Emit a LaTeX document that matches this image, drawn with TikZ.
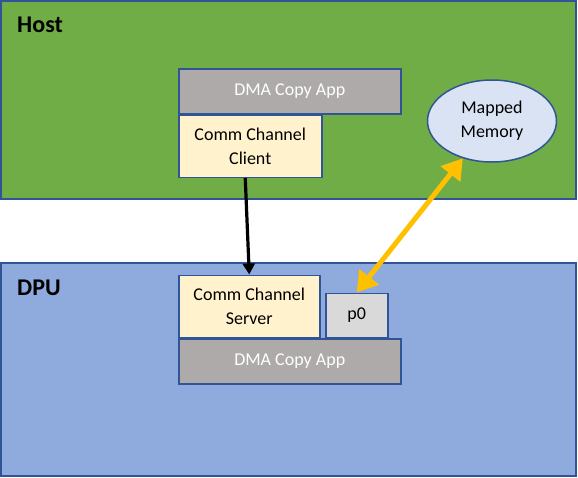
\documentclass[tikz,border=0pt]{standalone}
\usepackage{fontspec}
\setmainfont{Carlito}
\usetikzlibrary{arrows.meta,shapes.geometric,positioning}

\definecolor{hostgreen}{HTML}{70AD47}
\definecolor{dpublue}{HTML}{8FAADC}
\definecolor{boxblue}{HTML}{2F5597}
\definecolor{appgray}{HTML}{AEAAAA}
\definecolor{chanyellow}{HTML}{FFF2CC}
\definecolor{memblue}{HTML}{DAE3F3}
\definecolor{portgray}{HTML}{D9D9D9}
\definecolor{linkorange}{HTML}{FFC000}

\begin{document}
\begin{tikzpicture}[x=1pt,y=-1pt,
    every node/.style={font=\fontsize{18}{24}\selectfont,inner sep=0pt},
    area/.style={draw=boxblue,line width=1.5pt},
    area label/.style={font=\fontsize{24}{28}\selectfont\bfseries,anchor=base west},
    app box/.style={draw=boxblue,line width=1.5pt,fill=appgray,text=white,
                    minimum width=222pt,minimum height=45pt},
    chan box/.style={draw=boxblue,line width=1.5pt,fill=chanyellow,align=center,
                     minimum width=143pt,minimum height=62pt}]

  \useasboundingbox (0,0) rectangle (578,477);

  % host and dpu
  \draw[area,fill=hostgreen] (1,1) rectangle (576,199);
  \draw[area,fill=dpublue] (1,263) rectangle (576,476);
  \node[area label] (host) at (17,32) {Host};
  \node[area label] (dpu) at (17,295) {DPU};

  % host side
  \node[app box,anchor=north west] (hostapp) at (178,68) {DMA Copy App};
  \node[chan box,below right=0pt and 0pt of hostapp.south west] (client) {Comm Channel\\Client};
  \node[ellipse,draw=boxblue,line width=1.5pt,fill=memblue,align=center,
        minimum width=129pt,minimum height=82pt] (mem) at (492,121) {Mapped\\Memory};

  % dpu side
  \node[app box,anchor=north west] (dpuapp) at (178,338) {DMA Copy App};
  \node[chan box,minimum width=141pt,above right=0pt and 0pt of dpuapp.north west] (server) {Comm Channel\\Server};
  \node[draw=boxblue,line width=1.5pt,fill=portgray,minimum width=62pt,minimum height=44pt,
        above right=0pt and 147pt of dpuapp.north west] (p0) {p0};

  \draw[-{Triangle[length=11pt,width=12pt]},line width=3.2pt]
    ([xshift=-5pt]client.south) -- (server.north);
  \draw[{Triangle[length=20pt,width=24pt]}-{Triangle[length=20pt,width=24pt]},
        line width=5pt,linkorange]
    (p0.north) -- (mem.232);
\end{tikzpicture}
\end{document}
